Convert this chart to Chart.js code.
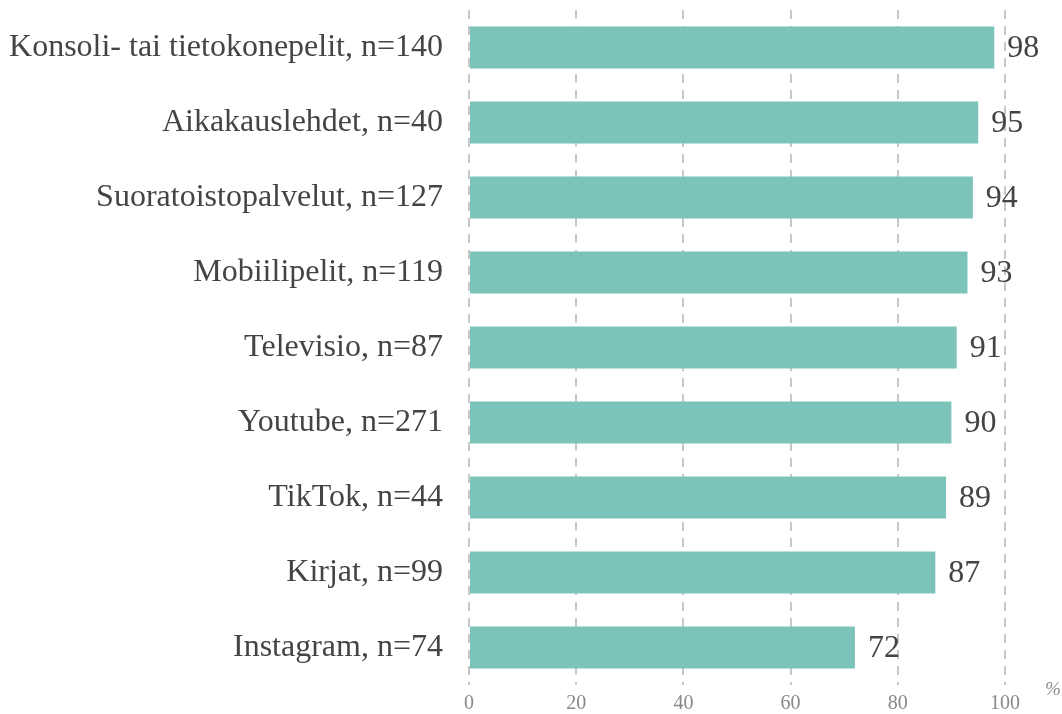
<!DOCTYPE html>
<html>
<head>
<meta charset="utf-8">
<script src="https://cdn.jsdelivr.net/npm/chart.js@4"></script>
<style>
  html, body { margin: 0; padding: 0; background: #fff; }
  #wrap { width: 1062px; height: 714px; }
</style>
</head>
<body>
<div id="wrap"><canvas id="barChart" width="1062" height="714"></canvas></div>
<script>
const categories = [
    'Konsoli- tai tietokonepelit, n=140',
    'Aikakauslehdet, n=40',
    'Suoratoistopalvelut, n=127',
    'Mobiilipelit, n=119',
    'Televisio, n=87',
    'Youtube, n=271',
    'TikTok, n=44',
    'Kirjat, n=99',
    'Instagram, n=74'
];
const values = [98, 95, 94, 93, 91, 90, 89, 87, 72];
const xTicks = [0, 20, 40, 60, 80, 100];

const serif = '"Liberation Serif", "DejaVu Serif", serif';

// value labels at the end of each bar
const valueLabels = {
    id: 'valueLabels',
    afterDatasetsDraw(chart) {
        const ctx = chart.ctx;
        const meta = chart.getDatasetMeta(0);
        ctx.save();
        ctx.font = '32px ' + serif;
        ctx.fillStyle = '#444';
        ctx.textAlign = 'left';
        ctx.textBaseline = 'middle';
        meta.data.forEach((bar, i) => {
            ctx.fillText(String(values[i]), bar.x + 13, bar.y + 1);
        });
        // percent sign at the end of the x axis
        ctx.font = 'italic 19px ' + serif;
        ctx.fillStyle = '#888';
        ctx.fillText('%', chart.chartArea.right + 40, chart.chartArea.bottom + 5);
        ctx.restore();
    }
};

const ctx = document.getElementById('barChart').getContext('2d');
new Chart(ctx, {
    type: 'bar',
    data: {
        labels: categories,
        datasets: [{
            data: values,
            backgroundColor: '#7cc4b9',
            borderWidth: 0,
            categoryPercentage: 1,
            barPercentage: 0.56
        }]
    },
    options: {
        indexAxis: 'y',
        responsive: false,
        animation: false,
        layout: { padding: { top: 10, right: 57, left: 0, bottom: 0 } },
        plugins: {
            legend: { display: false },
            tooltip: { enabled: false }
        },
        scales: {
            x: {
                min: 0,
                max: 100,
                afterBuildTicks(axis) {
                    axis.ticks = xTicks.map(v => ({ value: v }));
                },
                afterFit(axis) {
                    axis.height = 29;
                    axis.paddingLeft = 0;
                    axis.paddingRight = 0;
                },
                grid: {
                    color: '#c8c8c8',
                    lineWidth: 2,
                    drawTicks: false
                },
                border: { display: false, dash: [9, 7] },
                ticks: {
                    padding: 7,
                    color: '#888',
                    font: { family: serif, size: 20 }
                }
            },
            y: {
                afterFit(axis) {
                    axis.width = 469;
                    axis.paddingTop = 0;
                    axis.paddingBottom = 0;
                },
                grid: { display: false, drawTicks: false },
                border: { display: false },
                ticks: {
                    padding: 26,
                    color: '#444',
                    font: { family: serif, size: 32 }
                }
            }
        }
    },
    plugins: [valueLabels]
});
</script>
</body>
</html>
